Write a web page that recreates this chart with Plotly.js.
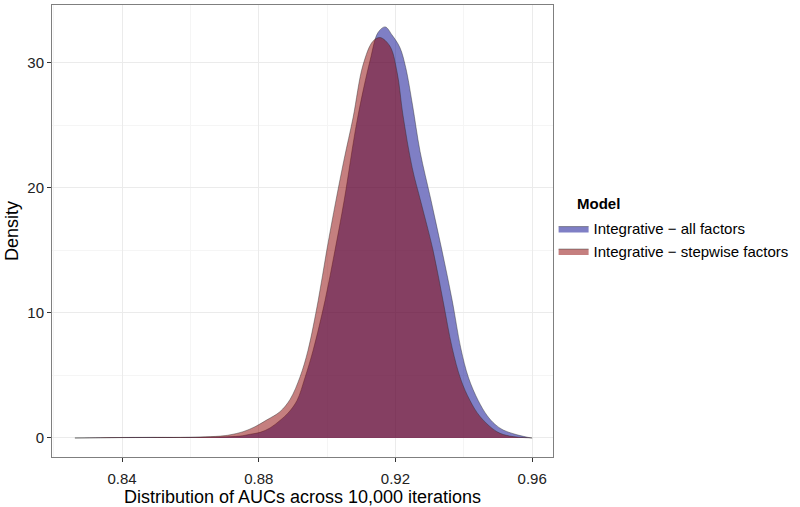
<!DOCTYPE html>
<html>
<head>
<meta charset="utf-8">
<script src="https://cdn.plot.ly/plotly-3.0.1.min.js"></script>
<style>
  html, body { margin: 0; padding: 0; background: #fff; }
  #auc_plot { width: 800px; height: 507px; }
</style>
</head>
<body>
<div id="auc_plot"></div>
<script>
// density of AUCs
var allFactorsX = [0.8262, 0.8336, 0.8400, 0.8482, 0.8570, 0.8628, 0.8687, 0.8745, 0.8775, 0.8804,
    0.8833, 0.8862, 0.8886, 0.8912, 0.8935, 0.8959, 0.8994, 0.9023, 0.9050, 0.9088,
    0.9126, 0.9149, 0.9170, 0.9190, 0.9213, 0.9230, 0.9250, 0.9272, 0.9304, 0.9336,
    0.9366, 0.9391, 0.9414, 0.9442, 0.9468, 0.9491, 0.9515, 0.9550, 0.9594, 0.9600];
var allFactorsY = [0.00, 0.02, 0.04, 0.05, 0.04, 0.05, 0.08, 0.15, 0.30, 0.45,
    0.80, 1.40, 2.00, 3.00, 4.80, 7.00, 11.0, 15.0, 19.0, 25.4,
    30.2, 32.4, 32.85, 32.2, 31.2, 29.6, 26.6, 22.9, 19.0, 15.0,
    11.0, 7.20, 4.80, 3.00, 1.80, 1.10, 0.64, 0.30, 0.02, 0.00];

var stepwiseX = [0.8262, 0.8336, 0.8400, 0.8482, 0.8570, 0.8628, 0.8687, 0.8716, 0.8754, 0.8789,
    0.8824, 0.8862, 0.8892, 0.8921, 0.8944, 0.8974, 0.8999, 0.9026, 0.9050, 0.9076,
    0.9105, 0.9134, 0.9155, 0.9184, 0.9205, 0.9222, 0.9249, 0.9275, 0.9310, 0.9339,
    0.9366, 0.9391, 0.9418, 0.9448, 0.9497, 0.9535, 0.9600];
var stepwiseY = [0.00, 0.02, 0.03, 0.04, 0.05, 0.08, 0.15, 0.25, 0.50, 0.90,
    1.45, 2.10, 3.10, 4.90, 7.00, 11.0, 15.0, 19.0, 22.3, 25.6,
    29.8, 31.7, 32.0, 31.3, 29.2, 25.8, 21.6, 18.8, 15.0, 11.0,
    7.20, 4.70, 3.00, 1.70, 0.50, 0.15, 0.00];

var seriesNames = ['Integrative \u2212 all factors', 'Integrative \u2212 stepwise factors'];
var legendTitle = 'Model';
var xTicks = [0.84, 0.88, 0.92, 0.96];
var yTicks = [0, 10, 20, 30];

var outline = {color: 'rgba(40,40,40,0.7)', width: 0.6, shape: 'spline', smoothing: 1};

var trace_all = {
    type: 'scatter', mode: 'lines', name: seriesNames[0], legendgroup: 'all',
    x: allFactorsX, y: allFactorsY,
    fill: 'tozeroy', fillcolor: 'rgba(0,0,139,0.5)', line: outline
};
var trace_step = {
    type: 'scatter', mode: 'lines', name: seriesNames[1], legendgroup: 'step',
    x: stepwiseX, y: stepwiseY,
    fill: 'tozeroy', fillcolor: 'rgba(139,0,0,0.5)', line: outline
};

var gridCol = '#ebebeb';

var layout = {
    width: 800,
    height: 507,
    margin: {l: 52, r: 247, t: 5, b: 50, autoexpand: false},
    paper_bgcolor: '#fff',
    plot_bgcolor: '#fff',
    font: {family: 'Liberation Sans, Arial, sans-serif', size: 15, color: '#000'},
    xaxis: {
        title: {text: 'Distribution of AUCs across 10,000 iterations', font: {size: 18}, standoff: 0},
        range: [0.8195, 0.9661],
        tickvals: xTicks,
        ticktext: xTicks.map(function(v){ return v.toFixed(2); }),
        ticks: 'outside', ticklen: 4, tickcolor: '#333', tickfont: {size: 15, color: '#222'},
        ticklabelstandoff: 4,
        showline: true, linecolor: '#7f7f7f', linewidth: 1, mirror: true,
        showgrid: true, gridcolor: gridCol, zeroline: false,
        minor: {tickvals: [0.82, 0.86, 0.90, 0.94], showgrid: true, gridcolor: '#f5f5f5', ticks: ''}
    },
    yaxis: {
        title: {text: 'Density', font: {size: 18}, standoff: 4},
        range: [-1.52, 34.6],
        tickvals: yTicks,
        ticks: 'outside', ticklen: 4, tickcolor: '#333', tickfont: {size: 15, color: '#222'},
        showline: true, linecolor: '#7f7f7f', linewidth: 1, mirror: true,
        showgrid: true, gridcolor: gridCol, zeroline: false,
        minor: {tickvals: [5, 15, 25], showgrid: true, gridcolor: '#f5f5f5', ticks: ''}
    },
    showlegend: true,
    legend: {
        xref: 'container', yref: 'container', x: 0.692, y: 0.527, xanchor: 'left', yanchor: 'middle',
        font: {size: 15},
        traceorder: 'normal',
        tracegroupgap: 3,
        bgcolor: 'rgba(0,0,0,0)',
        itemwidth: 30
    },
    annotations: [{
        xref: 'paper', yref: 'paper', x: 1.044, y: 0.56, xanchor: 'left', yanchor: 'middle',
        text: '<b>' + legendTitle + '</b>', showarrow: false, font: {size: 15, color: '#000'}
    }]
};

Plotly.newPlot('auc_plot', [trace_all, trace_step], layout, {displayModeBar: false, staticPlot: true});
</script>
</body>
</html>
